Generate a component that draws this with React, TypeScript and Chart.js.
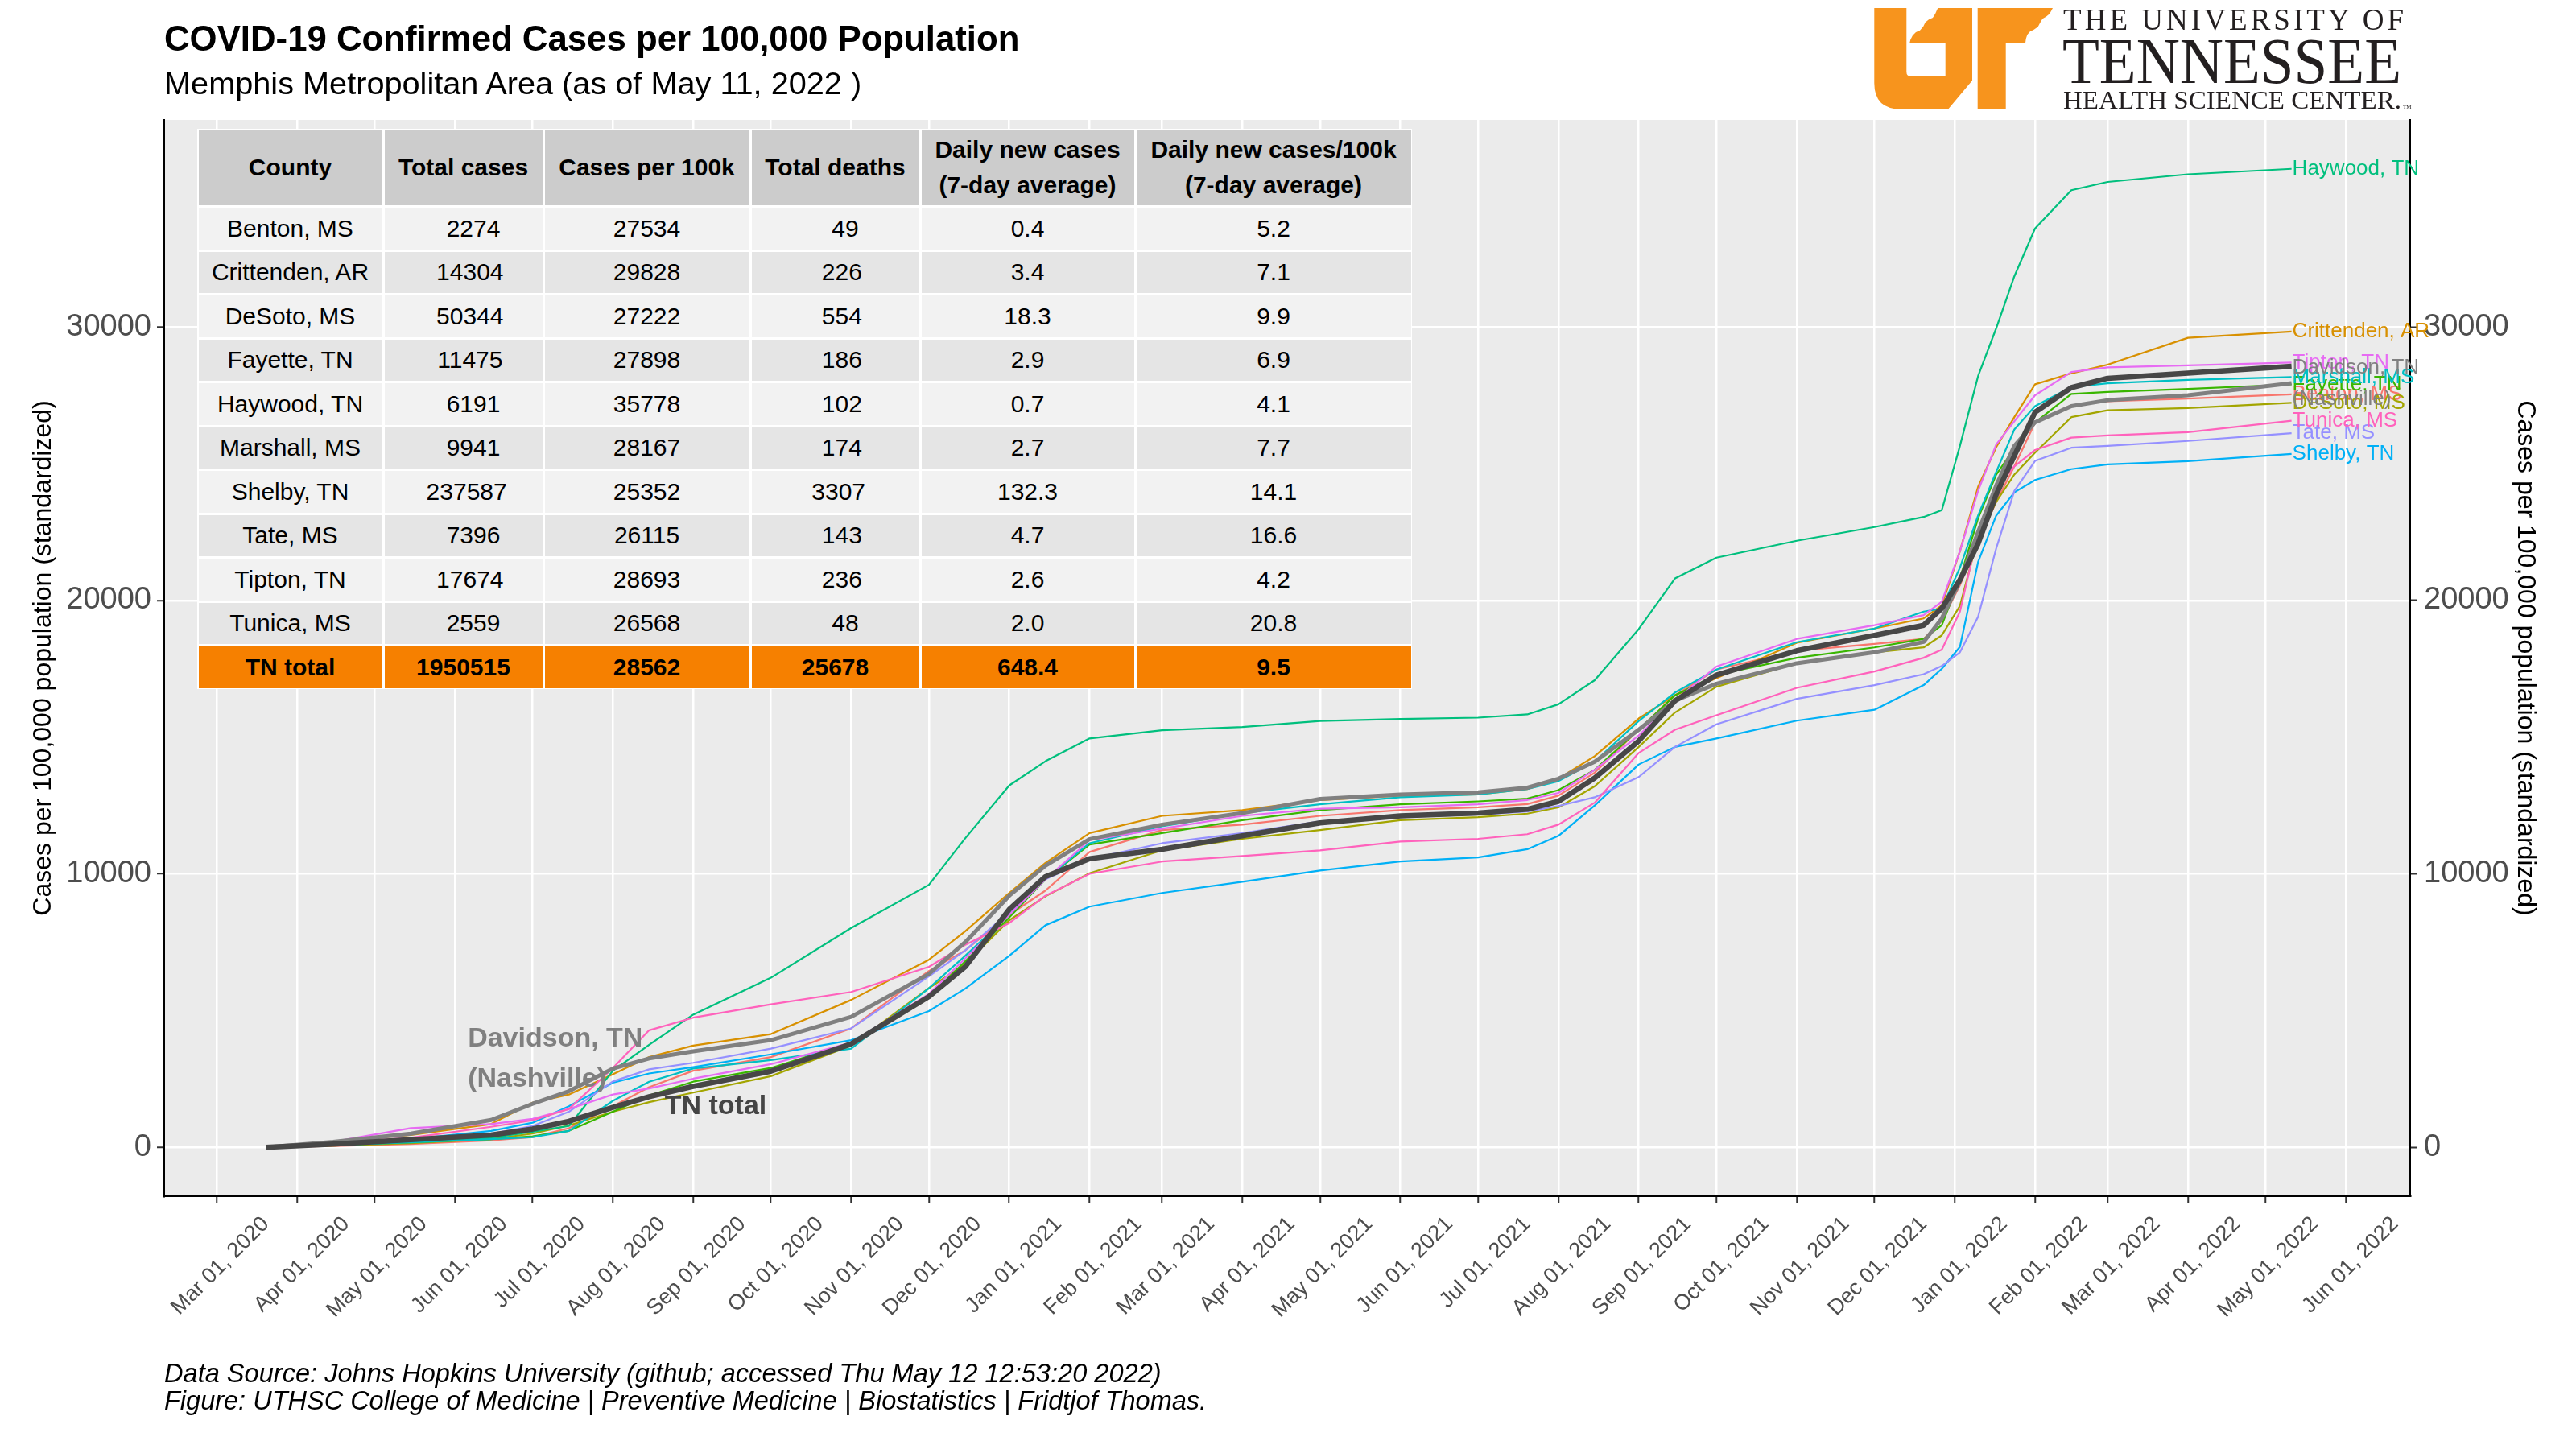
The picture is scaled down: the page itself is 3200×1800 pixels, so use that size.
import React, { useEffect, useRef } from "react";
import { Chart, registerables } from "chart.js";

Chart.register(...registerables);

const FONT = '"Liberation Sans", Arial, Helvetica, sans-serif';

// ---------------- data ----------------
const dates = [
  "2020-03-20", "2020-04-15", "2020-05-15", "2020-06-15", "2020-07-01", "2020-07-15",
  "2020-08-01", "2020-08-15", "2020-09-01", "2020-10-01", "2020-11-01", "2020-12-01",
  "2020-12-15", "2021-01-01", "2021-01-15", "2021-02-01", "2021-03-01", "2021-04-01",
  "2021-05-01", "2021-06-01", "2021-07-01", "2021-07-20", "2021-08-01", "2021-08-15",
  "2021-09-01", "2021-09-15", "2021-10-01", "2021-11-01", "2021-12-01", "2021-12-20",
  "2021-12-27", "2022-01-03", "2022-01-10", "2022-01-17", "2022-01-24", "2022-02-01",
  "2022-02-15", "2022-03-01", "2022-04-01", "2022-05-11",
];

const benton = [0, 50, 120, 250, 370, 700, 1500, 2200, 2800, 3300, 4350, 6450, 7200, 8500, 9390, 10800, 11600, 11800, 12120, 12330, 12430, 12550, 12860, 13700, 15270, 16530, 17470, 18160, 18410, 18590, 19250, 20550, 22150, 23600, 24900, 26500, 27130, 27280, 27380, 27534];
const crittenden = [0, 200, 450, 850, 1630, 1930, 2670, 3300, 3720, 4140, 5390, 6860, 7900, 9300, 10400, 11490, 12120, 12330, 12700, 12860, 12900, 13100, 13480, 14300, 15680, 16530, 17150, 18450, 18970, 19340, 19820, 21800, 24150, 25600, 26700, 27900, 28300, 28620, 29600, 29828];
const desoto = [0, 60, 150, 300, 500, 800, 1300, 1650, 2000, 2600, 3720, 5820, 6700, 8300, 9180, 10020, 10860, 11280, 11600, 11960, 12070, 12200, 12430, 13200, 14640, 15900, 16840, 17700, 18100, 18280, 18720, 19800, 22300, 23600, 24600, 25400, 26700, 26950, 27030, 27222];
const fayette = [0, 80, 180, 300, 400, 600, 1300, 1900, 2400, 2900, 3830, 5510, 6800, 8400, 9800, 11070, 11490, 11960, 12330, 12540, 12650, 12750, 13060, 13800, 15270, 16530, 17270, 17900, 18280, 18590, 19090, 20800, 23000, 24600, 25550, 26500, 27550, 27620, 27730, 27898];
const haywood = [0, 100, 200, 350, 570, 780, 2800, 3750, 4850, 6200, 8020, 9600, 11300, 13230, 14120, 14950, 15250, 15370, 15590, 15660, 15710, 15830, 16200, 17080, 18950, 20800, 21560, 22180, 22680, 23050, 23300, 25650, 28200, 29950, 31850, 33600, 35000, 35300, 35580, 35778];
const marshall = [0, 80, 180, 300, 370, 600, 1700, 2400, 2880, 3190, 3610, 5820, 7000, 8500, 9800, 11120, 11740, 12220, 12540, 12800, 12900, 13100, 13390, 14100, 15590, 16630, 17470, 18470, 18970, 19590, 19700, 21200, 23100, 24700, 26250, 27100, 27800, 27940, 28060, 28167];
const shelby = [0, 150, 300, 600, 900, 1500, 2360, 2700, 2930, 3400, 3920, 4980, 5800, 7000, 8120, 8800, 9300, 9710, 10120, 10450, 10600, 10900, 11390, 12500, 14000, 14640, 14950, 15600, 16000, 16900, 17500, 18300, 21400, 23100, 23950, 24400, 24800, 24970, 25090, 25352];
const tate = [0, 120, 280, 500, 780, 1300, 2410, 2850, 3090, 3610, 4350, 6250, 7200, 8600, 9800, 10540, 11120, 11490, 11920, 12070, 12170, 12280, 12480, 12800, 13540, 14640, 15470, 16400, 16900, 17300, 17600, 18100, 19400, 21900, 24000, 25100, 25580, 25650, 25830, 26115];
const tipton = [0, 200, 700, 850, 1040, 1400, 1930, 2150, 2510, 3040, 3830, 5610, 6900, 8500, 9800, 11230, 11650, 12120, 12380, 12430, 12540, 12700, 12960, 13800, 15060, 16330, 17580, 18590, 19090, 19460, 19950, 21800, 24000, 25700, 26550, 27500, 28350, 28520, 28590, 28693];
const tunica = [0, 150, 350, 750, 990, 1400, 2900, 4280, 4740, 5230, 5680, 6600, 7400, 8200, 9200, 10000, 10450, 10650, 10860, 11180, 11280, 11450, 11800, 12600, 14420, 15270, 15800, 16800, 17400, 17900, 18200, 19590, 22450, 24100, 24900, 25500, 25950, 26030, 26150, 26568];
const davidson = [0, 200, 500, 1000, 1590, 2050, 2880, 3250, 3510, 3920, 4770, 6340, 7500, 9200, 10300, 11270, 11800, 12220, 12740, 12900, 12980, 13150, 13480, 14100, 15270, 16330, 16950, 17700, 18100, 18480, 19340, 20700, 22500, 24200, 25650, 26510, 27100, 27320, 27500, 27940];
const tnTotal = [0, 120, 280, 450, 670, 950, 1460, 1850, 2230, 2780, 3780, 5510, 6600, 8700, 9900, 10550, 10900, 11390, 11860, 12120, 12220, 12360, 12650, 13500, 14860, 16330, 17270, 18160, 18720, 19090, 19710, 20750, 22070, 23870, 25290, 26880, 27780, 28120, 28310, 28562];

const countyNames = ["Benton, MS", "Crittenden, AR", "DeSoto, MS", "Fayette, TN", "Haywood, TN", "Marshall, MS", "Shelby, TN", "Tate, MS", "Tipton, TN", "Tunica, MS"];
const countySeries = [benton, crittenden, desoto, fayette, haywood, marshall, shelby, tate, tipton, tunica];

// table values
const tableRows = [...countyNames, "TN total"];
const totalCases = [2274, 14304, 50344, 11475, 6191, 9941, 237587, 7396, 17674, 2559, 1950515];
const casesPer100k = [27534, 29828, 27222, 27898, 35778, 28167, 25352, 26115, 28693, 26568, 28562];
const totalDeaths = [49, 226, 554, 186, 102, 174, 3307, 143, 236, 48, 25678];
const dailyNew = ["0.4", "3.4", "18.3", "2.9", "0.7", "2.7", "132.3", "4.7", "2.6", "2.0", "648.4"];
const dailyNewPer100k = ["5.2", "7.1", "9.9", "6.9", "4.1", "7.7", "14.1", "16.6", "4.2", "20.8", "9.5"];
const tableHeaders = [["County"], ["Total cases"], ["Cases per 100k"], ["Total deaths"], ["Daily new cases", "(7-day average)"], ["Daily new cases/100k", "(7-day average)"]];

// axes
const yTicks = [0, 10000, 20000, 30000];
const xTickDates = [
  "2020-03-01", "2020-04-01", "2020-05-01", "2020-06-01", "2020-07-01", "2020-08-01", "2020-09-01",
  "2020-10-01", "2020-11-01", "2020-12-01", "2021-01-01", "2021-02-01", "2021-03-01", "2021-04-01",
  "2021-05-01", "2021-06-01", "2021-07-01", "2021-08-01", "2021-09-01", "2021-10-01", "2021-11-01",
  "2021-12-01", "2022-01-01", "2022-02-01", "2022-03-01", "2022-04-01", "2022-05-01", "2022-06-01",
];
const xTickLabels = [
  "Mar 01, 2020", "Apr 01, 2020", "May 01, 2020", "Jun 01, 2020", "Jul 01, 2020", "Aug 01, 2020", "Sep 01, 2020",
  "Oct 01, 2020", "Nov 01, 2020", "Dec 01, 2020", "Jan 01, 2021", "Feb 01, 2021", "Mar 01, 2021", "Apr 01, 2021",
  "May 01, 2021", "Jun 01, 2021", "Jul 01, 2021", "Aug 01, 2021", "Sep 01, 2021", "Oct 01, 2021", "Nov 01, 2021",
  "Dec 01, 2021", "Jan 01, 2022", "Feb 01, 2022", "Mar 01, 2022", "Apr 01, 2022", "May 01, 2022", "Jun 01, 2022",
];

const inPlotLabels = [
  { text: "Davidson, TN", date: "2020-06-06", value: 3950 },
  { text: "(Nashville)", date: "2020-06-06", value: 2480 },
  { text: "TN total", date: "2020-08-21", value: 1480 },
];

// ---------------- styling ----------------
const countyColors = ["#F8766D", "#D89000", "#A3A500", "#39B600", "#00BF7D", "#00BFC4", "#00B0F6", "#9590FF", "#E76BF3", "#FF62BC"];
const DAVIDSON_COLOR = "#808080";
const TN_COLOR = "#474747";
const inPlotColors = [DAVIDSON_COLOR, DAVIDSON_COLOR, "#454545"];

const W = 3200;
const H = 1800;
const PANEL = { left: 204, right: 2994, top: 149, bottom: 1486 };
const X_MIN = -20.2;
const X_MAX = 846.8;
const Y_MIN = -1789;
const Y_MAX = 37567;

const BASE = Date.UTC(2020, 2, 1);
const day = (s: string) => {
  const [y, m, d] = s.split("-").map(Number);
  return (Date.UTC(y, m - 1, d) - BASE) / 86400000;
};
const toPoints = (vals: number[]) => dates.map((d, i) => ({ x: day(d), y: vals[i] }));

const panelBg = {
  id: "panelBg",
  beforeDraw(chart: any) {
    const { ctx, chartArea: a } = chart;
    ctx.save();
    ctx.fillStyle = "#EBEBEB";
    ctx.fillRect(a.left, a.top, a.right - a.left, a.bottom - a.top);
    ctx.restore();
  },
};

const textLabels = {
  id: "textLabels",
  afterDatasetsDraw(chart: any) {
    const { ctx, scales } = chart;
    const xs = scales.x;
    const ys = scales.y;
    const last = dates.length - 1;
    const xe = xs.getPixelForValue(day(dates[last])) + 1;
    ctx.save();
    ctx.textAlign = "left";
    ctx.textBaseline = "middle";
    ctx.font = `26px ${FONT}`;
    countyNames.forEach((n, k) => {
      ctx.fillStyle = countyColors[k];
      ctx.fillText(n, xe, ys.getPixelForValue(countySeries[k][last]));
    });
    const yd = ys.getPixelForValue(davidson[last]);
    ctx.fillStyle = DAVIDSON_COLOR;
    ctx.fillText("Davidson, TN", xe, yd - 19.5);
    ctx.fillText("(Nashville)", xe, yd + 19.5);

    ctx.font = `bold 34px ${FONT}`;
    inPlotLabels.forEach((l, i) => {
      ctx.fillStyle = inPlotColors[i];
      ctx.fillText(l.text, xs.getPixelForValue(day(l.date)), ys.getPixelForValue(l.value));
    });
    ctx.restore();
  },
};

const pad = (arr: (string | number)[]) => {
  const L = Math.max(...arr.map((v) => String(v).length));
  return arr.map((v) => String(v).padStart(L, " "));
};

const colX = [245, 476, 675, 932, 1143, 1410, 1754];
const rowY = [160, 256.5, 311, 365.5, 420, 474.5, 529, 583.5, 638, 692.5, 747, 801.5, 856];

export default function App() {
  const ref = useRef<HTMLCanvasElement | null>(null);

  useEffect(() => {
    if (!ref.current) return;
    const datasets: any[] = [
      {
        label: "TN total",
        data: toPoints(tnTotal),
        borderColor: TN_COLOR,
        borderWidth: 6.5,
        order: 0,
      },
      {
        label: "Davidson, TN",
        data: toPoints(davidson),
        borderColor: DAVIDSON_COLOR,
        borderWidth: 5,
        order: 1,
      },
      ...countyNames.map((n, k) => ({
        label: n,
        data: toPoints(countySeries[k]),
        borderColor: countyColors[k],
        borderWidth: 2.2,
        order: 20 - k,
      })),
    ].map((d) => ({ ...d, pointRadius: 0, fill: false, tension: 0, borderJoinStyle: "round" }));

    const yTickOpts = {
      color: "#4D4D4D",
      font: { family: FONT, size: 38 },
      callback: (v: any) => String(v),
    };
    const axisTitleFont = { family: FONT, size: 32 };

    const chart = new Chart(ref.current, {
      type: "line",
      data: { datasets },
      options: {
        responsive: false,
        maintainAspectRatio: false,
        animation: false,
        devicePixelRatio: 1,
        layout: { padding: { top: PANEL.top, left: 0, right: 0, bottom: 0 } },
        plugins: {
          legend: { display: false },
          tooltip: { enabled: false },
          title: { display: false },
        },
        scales: {
          x: {
            type: "linear",
            position: "bottom",
            min: X_MIN,
            max: X_MAX,
            afterBuildTicks: (s: any) => {
              s.ticks = xTickDates.map((d) => ({ value: day(d) }));
            },
            afterFit: (s: any) => {
              s.height = H - PANEL.bottom;
            },
            ticks: {
              autoSkip: false,
              minRotation: 45,
              maxRotation: 45,
              labelOffset: 61,
              padding: 10,
              color: "#4D4D4D",
              font: { family: FONT, size: 27 },
              callback: (_v: any, i: number) => xTickLabels[i],
            },
            grid: { color: "#FFFFFF", lineWidth: 2.5, tickColor: "#333333", tickLength: 9, tickWidth: 2 },
            border: { display: true, color: "#000000", width: 2 },
          },
          y: {
            type: "linear",
            position: "left",
            min: Y_MIN,
            max: Y_MAX,
            afterBuildTicks: (s: any) => {
              s.ticks = yTicks.map((v) => ({ value: v }));
            },
            afterFit: (s: any) => {
              s.width = PANEL.left;
            },
            ticks: { ...yTickOpts, padding: 7 },
            grid: { color: "#FFFFFF", lineWidth: 2.5, tickColor: "#333333", tickLength: 9, tickWidth: 2 },
            border: { display: true, color: "#000000", width: 2 },
            title: {
              display: true,
              text: "Cases per 100,000 population (standardized)",
              color: "#000000",
              font: axisTitleFont,
              padding: { top: 35, bottom: 0 },
            },
          },
          y2: {
            type: "linear",
            position: "right",
            min: Y_MIN,
            max: Y_MAX,
            z: 1,
            afterBuildTicks: (s: any) => {
              s.ticks = yTicks.map((v) => ({ value: v }));
            },
            afterFit: (s: any) => {
              s.width = W - PANEL.right;
            },
            ticks: { ...yTickOpts, padding: 8 },
            grid: { drawOnChartArea: false, tickColor: "#333333", tickLength: 9, tickWidth: 2 },
            border: { display: true, color: "#000000", width: 2 },
            title: {
              display: true,
              text: "Cases per 100,000 population (standardized)",
              color: "#000000",
              font: axisTitleFont,
              padding: { top: 44, bottom: 0 },
            },
          },
        },
      } as any,
      plugins: [panelBg, textLabels],
    });
    return () => chart.destroy();
  }, []);

  const colTotal = pad(totalCases);
  const colPer = pad(casesPer100k);
  const colDeaths = pad(totalDeaths);
  const cellValues = tableRows.map((name, i) => [name, colTotal[i], colPer[i], colDeaths[i], dailyNew[i], dailyNewPer100k[i]]);

  const cells: React.ReactNode[] = [];
  for (let r = 0; r < rowY.length - 1; r++) {
    for (let c = 0; c < colX.length - 1; c++) {
      const isHeader = r === 0;
      const isTotal = r === rowY.length - 2;
      const bg = isHeader ? "#CCCCCC" : isTotal ? "#F68000" : r % 2 === 1 ? "#F2F2F2" : "#E5E5E5";
      const content = isHeader ? tableHeaders[c] : [cellValues[r - 1][c]];
      cells.push(
        <div
          key={`${r}-${c}`}
          style={{
            position: "absolute",
            left: colX[c] + 1.5,
            top: rowY[r] + 1.5,
            width: colX[c + 1] - colX[c] - 3,
            height: rowY[r + 1] - rowY[r] - 3,
            background: bg,
            display: "flex",
            flexDirection: "column",
            alignItems: "center",
            justifyContent: "center",
            fontFamily: FONT,
            fontSize: 30,
            fontWeight: isHeader || isTotal ? "bold" : "normal",
            color: "#000000",
            whiteSpace: "pre",
            lineHeight: "44px",
          }}
        >
          {content.map((t, k) => (
            <span key={k}>{t}</span>
          ))}
        </div>
      );
    }
  }

  return (
    <div style={{ position: "absolute", left: 0, top: 0, width: W, height: H, background: "#FFFFFF", overflow: "hidden" }}>
      <canvas ref={ref} width={W} height={H} style={{ position: "absolute", left: 0, top: 0, width: W, height: H }} />

      <div style={{ position: "absolute", left: 204, top: 26, fontFamily: FONT, fontSize: 43.75, fontWeight: "bold", lineHeight: "44px", whiteSpace: "nowrap", color: "#000" }}>
        COVID-19 Confirmed Cases per 100,000 Population
      </div>
      <div style={{ position: "absolute", left: 204, top: 83, fontFamily: FONT, fontSize: 39.7, lineHeight: "40px", whiteSpace: "nowrap", color: "#000" }}>
        Memphis Metropolitan Area (as of May 11, 2022 )
      </div>

      <div style={{ position: "absolute", left: colX[0], top: rowY[0], width: colX[6] - colX[0], height: rowY[12] - rowY[0], background: "#FFFFFF" }} />
      {cells}

      <div style={{ position: "absolute", left: 204, top: 1689, fontFamily: FONT, fontSize: 32.6, fontStyle: "italic", lineHeight: "33px", whiteSpace: "nowrap", color: "#000" }}>
        Data Source: Johns Hopkins University (github; accessed Thu May 12 12:53:20 2022)
      </div>
      <div style={{ position: "absolute", left: 204, top: 1724, fontFamily: FONT, fontSize: 32.5, fontStyle: "italic", lineHeight: "33px", whiteSpace: "nowrap", color: "#000" }}>
        Figure: UTHSC College of Medicine | Preventive Medicine | Biostatistics | Fridtjof Thomas.
      </div>

      <svg width={W} height={150} viewBox={`0 0 ${W} 150`} style={{ position: "absolute", left: 0, top: 0 }}>
        <path
          fill="#F7941D"
          d="M2328.3,10 L2368.3,10 L2368.3,89.3 Q2368.3,95 2374,95 L2416.7,95 L2416.7,53.3 L2372.3,53.3 L2373.3,49.3 L2376,44 L2380,40 L2385,37.7 L2389,33.3 L2391.7,27.7 L2396,24.3 L2401,22 L2404,17.3 L2406,12.7 L2407.3,10 L2450,10 L2450,100 L2420,135.7 L2361.7,135.7 Q2328.3,135.7 2328.3,103.3 Z"
        />
        <path
          fill="#F7941D"
          d="M2456.7,10 L2550,10 L2548.3,13.3 L2546,17.3 L2541.7,20.7 L2537.3,23.3 L2534.3,28.3 L2531.7,33.3 L2526.7,36.7 L2521.7,39.3 L2518.3,43.3 L2516.7,48.3 L2516,53.3 L2491.7,53.3 L2491.7,135.7 L2456.7,135.7 Z"
        />
        <text x={2563} y={37} fontFamily='"Liberation Serif", "DejaVu Serif", serif' fontSize={37} fill="#231F20" textLength={423} lengthAdjust="spacing">
          THE UNIVERSITY OF
        </text>
        <text x={2562} y={103} fontFamily='"Liberation Serif", "DejaVu Serif", serif' fontSize={81} fill="#231F20" textLength={421} lengthAdjust="spacingAndGlyphs">
          TENNESSEE
        </text>
        <text x={2563} y={135} fontFamily='"Liberation Serif", "DejaVu Serif", serif' fontSize={32} fill="#231F20" textLength={420} lengthAdjust="spacingAndGlyphs">
          HEALTH SCIENCE CENTER.
        </text>
        <text x={2985} y={135} fontFamily='"Liberation Serif", serif' fontSize={7} fill="#231F20">
          TM
        </text>
      </svg>
    </div>
  );
}
